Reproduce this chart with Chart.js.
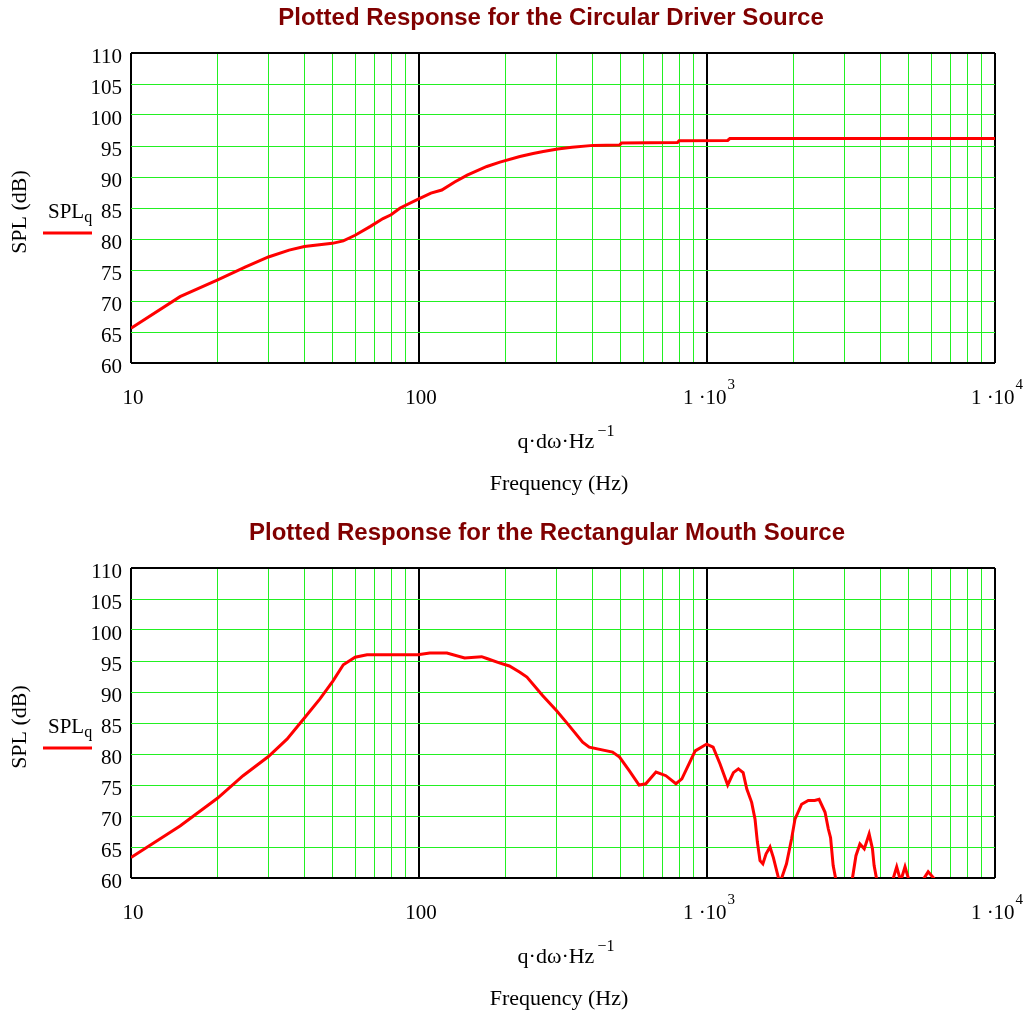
<!DOCTYPE html>
<html>
<head>
<meta charset="utf-8">
<script src="https://cdn.jsdelivr.net/npm/chart.js@4.4.1/dist/chart.umd.min.js"></script>
<style>
  html, body { margin: 0; padding: 0; background: #fff; overflow: hidden; }
  .box { position: absolute; left: 0; width: 1026px; }
</style>
</head>
<body>
<div class="box" style="top:0;height:515px"><canvas id="circ" width="1026" height="515"></canvas></div>
<div class="box" style="top:515px;height:499px"><canvas id="rect" width="1026" height="499"></canvas></div>
<script>
// circular driver source
const circFreq = [10, 14.8, 20, 25, 30, 35.4, 40, 50, 54.6, 60, 67.6, 75, 80, 86, 99, 110, 120, 133, 147, 172, 191, 224, 249, 270, 303, 340, 402, 497, 505, 790, 800, 1180, 1200, 10000];
const circSpl  = [65.6, 70.7, 73.4, 75.5, 77.1, 78.2, 78.8, 79.3, 79.7, 80.6, 82.0, 83.3, 83.9, 85.0, 86.4, 87.4, 87.9, 89.2, 90.3, 91.7, 92.4, 93.3, 93.8, 94.1, 94.5, 94.8, 95.1, 95.15, 95.5, 95.55, 95.85, 95.9, 96.2, 96.2];

// rectangular mouth source
const rectFreq = [10, 14.8, 20, 24.5, 30, 34.8, 40, 45.3, 50.3, 54.6, 60, 66, 99, 109, 125, 144, 165, 172, 190, 206, 224, 237, 269, 300, 325, 370, 390, 470, 497, 537, 581, 613, 665, 720, 780, 818, 910, 997, 1050, 1110, 1180, 1235, 1285, 1335, 1374, 1429, 1468, 1496, 1528, 1563, 1604, 1655, 1700, 1769, 1790, 1817, 1888, 1966, 2021, 2131, 2247, 2367, 2450, 2570, 2638, 2686, 2742, 2795, 2850, 3100, 3200, 3290, 3396, 3516, 3656, 3754, 3804, 3875, 3950, 4300, 4436, 4557, 4704, 4870, 5000, 5100, 5550, 5677, 5861, 6124, 6250, 10000];
const rectSpl  = [63.3, 68.4, 72.9, 76.5, 79.6, 82.4, 85.8, 88.9, 91.8, 94.4, 95.6, 96.0, 96.0, 96.3, 96.3, 95.5, 95.7, 95.4, 94.7, 94.2, 93.2, 92.4, 89.4, 87.0, 85.1, 81.9, 81.1, 80.3, 79.5, 77.3, 75.0, 75.2, 77.1, 76.5, 75.2, 76.0, 80.5, 81.6, 81.1, 78.4, 75.0, 77.0, 77.6, 77.0, 74.4, 72.2, 69.5, 65.8, 62.8, 62.3, 63.9, 65.0, 63.3, 60.1, 52, 60, 62.3, 66.3, 69.5, 71.9, 72.5, 72.5, 72.7, 70.6, 67.9, 66.5, 62.0, 60, 45, 45, 60, 63.6, 65.5, 64.7, 67.1, 64.7, 62.0, 60, 45, 45, 60, 61.8, 59.5, 61.8, 60, 45, 45, 60, 61.0, 60, 45, 45];

// axes
const yTickValues = [60, 65, 70, 75, 80, 85, 90, 95, 100, 105, 110];
const gridFreqs = [10, 20, 30, 40, 50, 60, 70, 80, 90, 100, 200, 300, 400, 500, 600, 700, 800, 900, 1000, 2000, 3000, 4000, 5000, 6000, 7000, 8000, 9000, 10000];
const decades = [10, 100, 1000, 10000];
const xTickValues = [10, 100, 1000, 10000];
const xTickBase = ['10', '100', '1 \u00b710', '1 \u00b710'];
const xTickExp = ['', '', '3', '4'];

const serif = '"Liberation Serif", "Times New Roman", serif';
const green = '#22f022';

// titles, x labels, axis names and the little legend, Mathcad style
const mcText = {
  id: 'mcText',
  afterDraw(chart, args, opts) {
    const ctx = chart.ctx;
    const xs = chart.scales.x;
    ctx.save();
    ctx.textBaseline = 'alphabetic';

    ctx.fillStyle = '#800000';
    ctx.font = 'bold 24px "Liberation Sans", Arial, sans-serif';
    ctx.textAlign = 'center';
    ctx.fillText(opts.title, opts.titleX, 25);

    ctx.fillStyle = '#000';
    ctx.textAlign = 'left';
    xTickValues.forEach((v, i) => {
      ctx.font = '21px ' + serif;
      const wb = ctx.measureText(xTickBase[i]).width;
      ctx.font = '15px ' + serif;
      const we = xTickExp[i] ? ctx.measureText(xTickExp[i]).width + 1 : 0;
      const x0 = xs.getPixelForValue(v) + 2 - (wb + we) / 2;
      ctx.font = '21px ' + serif;
      ctx.fillText(xTickBase[i], x0, 404);
      if (xTickExp[i]) {
        ctx.font = '15px ' + serif;
        ctx.fillText(xTickExp[i], x0 + wb + 1, 389);
      }
    });

    // q·dω·Hz^-1
    ctx.font = '22px ' + serif;
    const base = 'q\u00b7d\u03c9\u00b7Hz';
    const wb = ctx.measureText(base).width;
    ctx.font = '16px ' + serif;
    const we = ctx.measureText('\u22121').width;
    const x0 = 566 - (wb + we + 3) / 2;
    ctx.font = '22px ' + serif;
    ctx.fillText(base, x0, 448);
    ctx.font = '16px ' + serif;
    ctx.fillText('\u22121', x0 + wb + 3, 436);

    ctx.font = '22px ' + serif;
    ctx.textAlign = 'center';
    ctx.fillText('Frequency (Hz)', 559, 490);

    // y title
    ctx.save();
    ctx.translate(20, 212);
    ctx.rotate(-Math.PI / 2);
    ctx.textBaseline = 'middle';
    ctx.fillText('SPL (dB)', 0, 0);
    ctx.restore();

    // legend
    ctx.textAlign = 'left';
    ctx.font = '21px ' + serif;
    ctx.fillText('SPL', 48, 218);
    const ws = ctx.measureText('SPL').width;
    ctx.font = '16px ' + serif;
    ctx.fillText('q', 48 + ws, 222);
    ctx.strokeStyle = '#ff0000';
    ctx.lineWidth = 3;
    ctx.beginPath();
    ctx.moveTo(43, 233);
    ctx.lineTo(92, 233);
    ctx.stroke();
    ctx.restore();
  }
};

function makeChart(id, freqs, spl, title, titleX) {
  const canvas = document.getElementById(id);
  const points = freqs.map((f, i) => ({ x: f, y: spl[i] }));
  return new Chart(canvas, {
    type: 'line',
    data: {
      datasets: [{
        label: 'SPLq',
        data: points,
        borderColor: '#ff0000',
        borderWidth: 3,
        pointRadius: 0,
        tension: 0,
        fill: false
      }]
    },
    options: {
      responsive: false,
      animation: false,
      devicePixelRatio: 1,
      layout: { padding: { left: 0, right: 31, top: 53, bottom: canvas.height - 363 } },
      plugins: {
        legend: { display: false },
        tooltip: { enabled: false },
        mcText: { title: title, titleX: titleX }
      },
      scales: {
        x: {
          type: 'logarithmic',
          min: 10,
          max: 10000,
          afterBuildTicks: s => { s.ticks = gridFreqs.map(v => ({ value: v })); },
          afterFit: s => { s.height = 0; },
          ticks: { display: false },
          border: { display: false },
          grid: {
            drawTicks: false,
            color: c => decades.includes(c.tick.value) ? '#000' : green,
            lineWidth: c => decades.includes(c.tick.value) ? 2 : 1
          }
        },
        y: {
          min: 60,
          max: 110,
          afterBuildTicks: s => { s.ticks = yTickValues.map(v => ({ value: v })); },
          afterFit: s => { s.width = 131; },
          ticks: { color: '#000', font: { family: serif, size: 21 }, padding: 9, labelOffset: 4, autoSkip: false },
          border: { display: false },
          grid: {
            drawTicks: false,
            color: c => (c.tick.value === 60 || c.tick.value === 110) ? '#000' : green,
            lineWidth: c => (c.tick.value === 60 || c.tick.value === 110) ? 2 : 1
          }
        }
      }
    },
    plugins: [mcText]
  });
}

makeChart('circ', circFreq, circSpl, 'Plotted Response for the Circular Driver Source', 551);
makeChart('rect', rectFreq, rectSpl, 'Plotted Response for the Rectangular Mouth Source', 547);
</script>
</body>
</html>
